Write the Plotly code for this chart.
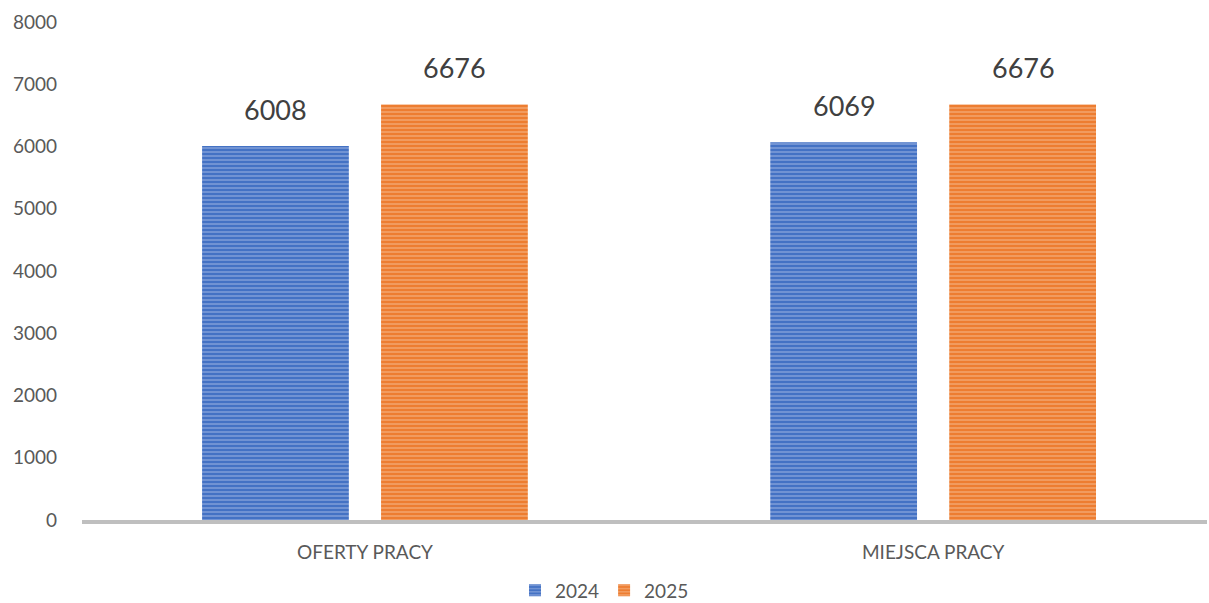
import plotly.graph_objects as go

categories = ['OFERTY PRACY', 'MIEJSCA PRACY']
years = ['2024', '2025']
values_2024 = [6008, 6069]
values_2025 = [6676, 6676]

colors = {'2024': '#4472C4', '2025': '#ED7D31'}
stripes = {'2024': '#B4C7EA', '2025': '#F8C8A4'}

fig = go.Figure()
for year, vals in zip(years, [values_2024, values_2025]):
    fig.add_trace(go.Bar(
        x=categories, y=vals, name=year,
        marker=dict(color=colors[year], line=dict(width=0),
                    pattern=dict(shape='-', fgcolor=stripes[year], bgcolor=colors[year],
                                 size=4, solidity=0.4, fillmode='overlay')),
    ))

# value labels above the bars (offset = half a bar slot)
shift = {'2024': -89, '2025': 90}
for year, vals in zip(years, [values_2024, values_2025]):
    for cat, v in zip(categories, vals):
        fig.add_annotation(x=cat, y=v, text=str(v), showarrow=False,
                           xshift=shift[year], yshift=18, yanchor='bottom',
                           font=dict(size=27, color='#404040'))

fig.update_layout(
    width=1209, height=603,
    margin=dict(l=82, r=2, t=22, b=83, autoexpand=False),
    barmode='group', bargap=0.37, bargroupgap=0.18,
    plot_bgcolor='white', paper_bgcolor='white',
    font=dict(family='Lato, sans-serif', color='#595959', size=19),
    legend=dict(orientation='h', xref='container', x=0.5, xanchor='center',
                yref='container', y=0.021, yanchor='middle',
                font=dict(size=19, color='#595959')),
    showlegend=True,
)
# the plot area in the original runs a bit past the right edge
fig.update_xaxes(range=[-0.498, 1.482], showline=True, linecolor='#BFBFBF', linewidth=4,
                 ticks='', automargin=False, ticklabelstandoff=12,
                 tickfont=dict(size=19, color='#595959'))
fig.update_yaxes(range=[0, 8000], dtick=1000, showgrid=False, zeroline=False,
                 automargin=False, ticklabelstandoff=24,
                 tickfont=dict(size=19, color='#595959'))

# drop the browser's default 8px body margin so the figure fills the window
fig.write_html('out.html', config={'displayModeBar': False},
               post_script="document.body.style.margin='0px'; document.body.style.overflow='hidden';")
